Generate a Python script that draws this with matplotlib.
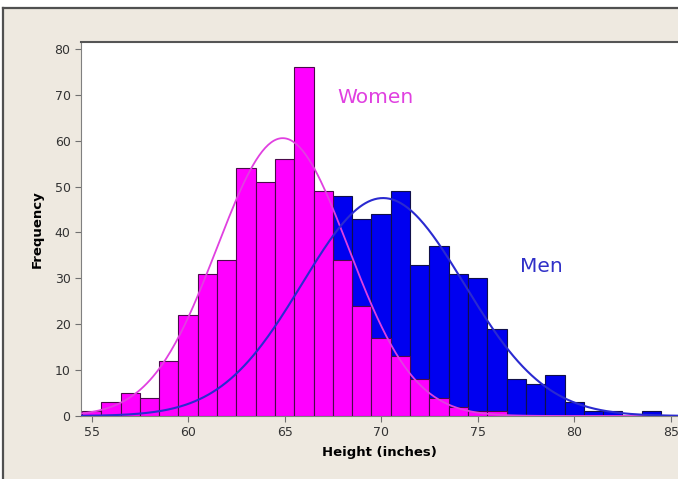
import numpy as np
import matplotlib.pyplot as plt
from matplotlib.patches import Rectangle
from matplotlib.lines import Line2D

# Histogramas de altura (contagem por polegada)
heights = list(range(55, 86))
women = [1, 3, 5, 4, 12, 22, 31, 34, 54, 51, 56, 76, 49, 34, 24, 17, 13, 8, 4, 2, 1, 1,
         0, 0, 0, 0, 0, 0, 0, 0, 0]
men = [0, 0, 1, 1, 2, 3, 5, 8, 12, 17, 22, 28, 35, 48, 43, 44, 49, 33, 37, 31, 30, 19,
       8, 7, 9, 3, 1, 1, 0, 1, 0]

# Parametros das normais ajustadas (media, desvio, n)
women_fit = (64.9, 3.4, 516)
men_fit = (70.1, 4.2, 500)

x_ticks = [55, 60, 65, 70, 75, 80, 85]
y_ticks = [0, 10, 20, 30, 40, 50, 60, 70, 80]


def normal_curve(x, mean, sd, n):
    return n * np.exp(-0.5 * ((x - mean) / sd) ** 2) / (sd * np.sqrt(2 * np.pi))


fig = plt.figure(figsize=(6.78, 4.79), dpi=100)
fig.patch.set_facecolor("white")

# Fundo bege da janela com borda escura
fig.add_artist(Rectangle((3 / 678, 0), 1, (479 - 8) / 479, transform=fig.transFigure,
                         facecolor="#EEE9E0", edgecolor="none", zorder=0))
fig.add_artist(Line2D([3 / 678, 1], [(479 - 8) / 479] * 2, transform=fig.transFigure,
                      color="#505050", lw=1.6))
fig.add_artist(Line2D([3 / 678] * 2, [0, (479 - 8) / 479], transform=fig.transFigure,
                      color="#505050", lw=1.6))

ax = fig.add_axes([81 / 678, 63 / 479, 597 / 678, 374 / 479])
ax.set_facecolor("white")

ax.bar(heights, men, width=1.0, color="#0000F0", edgecolor="#10104A", linewidth=0.8, zorder=2)
ax.bar(heights, women, width=1.0, color="#FF00FF", edgecolor="#4A0A4A", linewidth=0.8, zorder=3)

xs = np.linspace(54.45, 85.4, 400)
ax.plot(xs, normal_curve(xs, *women_fit), color="#E040E0", lw=1.3, zorder=4)
ax.plot(xs, normal_curve(xs, *men_fit), color="#2A2AD0", lw=1.5, zorder=5)

ax.text(69.7, 69.5, "Women", color="#E040E0", fontsize=14.5, ha="center", va="center")
ax.text(78.3, 32.5, "Men", color="#3030C8", fontsize=14.5, ha="center", va="center")

ax.set_xlim(54.45, 85.38)
ax.set_ylim(0, 81.5)
ax.set_xticks(x_ticks)
ax.set_yticks(y_ticks)
ax.tick_params(direction="out", length=4, color="#707070", labelcolor="#333333", labelsize=9)

ax.spines["right"].set_visible(False)
ax.spines["top"].set_color("#555555")
ax.spines["top"].set_linewidth(1.5)
ax.spines["left"].set_color("#808080")
ax.spines["bottom"].set_color("#808080")

ax.set_xlabel("Height (inches)", fontweight="bold", fontsize=9.5, labelpad=5)
ax.set_ylabel("Frequency", fontweight="bold", fontsize=9.5, labelpad=8)

fig.savefig("out.png", dpi=100)
